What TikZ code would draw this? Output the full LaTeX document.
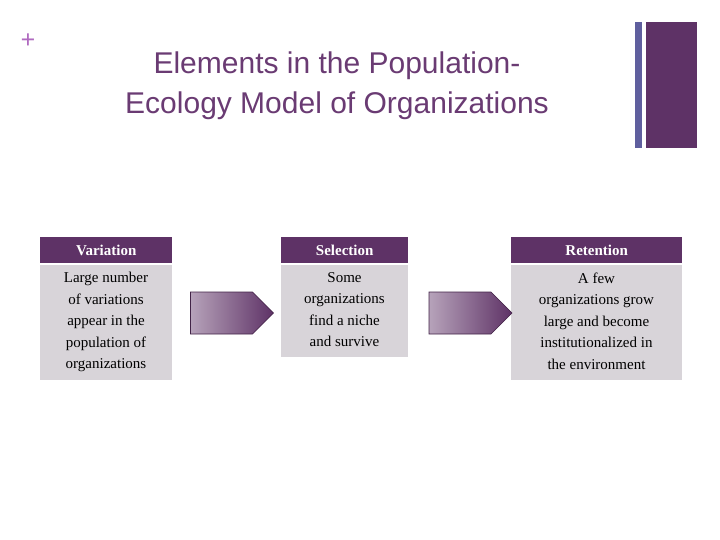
\documentclass[tikz,border=0pt]{standalone}
\usepackage{fontspec}
\setmainfont{Liberation Serif}
\newfontfamily\titlefont{Liberation Sans}
\usetikzlibrary{shapes.arrows,positioning}
\definecolor{plum}{HTML}{5E3266}
\definecolor{titleplum}{HTML}{6A3B73}
\definecolor{lilac}{HTML}{B06BC0}
\definecolor{slate}{HTML}{5F5F9E}
\definecolor{boxgray}{HTML}{D8D4D9}
\tikzset{
  head/.style={fill=plum, text=white, font=\bfseries\fontsize{15}{17}\selectfont,
    minimum height=26pt, inner sep=0pt, anchor=north west},
  body/.style={fill=boxgray, text=black, font=\fontsize{15}{21.5}\selectfont,
    align=center, inner sep=0pt, anchor=north west},
  step arrow/.style={single arrow, draw=plum!70!black, line width=0.6pt,
    left color=plum!45, right color=plum, minimum height=83pt,
    minimum width=42pt, single arrow head extend=0pt, inner sep=0pt,
    single arrow tip angle=90},
}
\begin{document}
\begin{tikzpicture}[x=1pt,y=-1pt]
  \useasboundingbox (0,0) rectangle (720,540);
  % title and decorations
  \node[text=lilac, font=\bfseries\fontsize{26}{26}\selectfont] (plus) at (28,41) {+};
  \node[text=titleplum, font=\titlefont\fontsize{30}{40}\selectfont, align=center] (title) at (337,86)
    {Elements in the Population-\\Ecology Model of Organizations};
  \fill[slate] (635,22) rectangle (642,148);
  \fill[plum] (646,22) rectangle (697,148);

  % stages
  \node[head, minimum width=132pt] (varh) at (40,237) {Variation};
  \node[body, minimum width=132pt, minimum height=115pt] (varb) at (40,265) {};
  \node[font=\fontsize{15}{21.5}\selectfont, align=center, anchor=north] (vart) at (106,269)
    {Large number\\of variations\\appear in the\\population of\\organizations};

  \node[head, minimum width=127pt] (selh) at (281,237) {Selection};
  \node[body, minimum width=127pt, minimum height=92pt] (selb) at (281,265) {};
  \node[font=\fontsize{15}{21.5}\selectfont, align=center, anchor=north] (selt) at (344.5,269)
    {Some\\organizations\\find a niche\\and survive};

  \node[head, minimum width=171pt] (reth) at (511,237) {Retention};
  \node[body, minimum width=171pt, minimum height=115pt] (retb) at (511,265) {};
  \node[font=\fontsize{15}{21.5}\selectfont, align=center, anchor=north] (rett) at (596.5,269)
    {A few\\organizations grow\\large and become\\institutionalized in\\the environment};

  % arrows
  \node[step arrow] (arrow1) at (221.5,313) {};
  \node[step arrow] (arrow2) at (460,313) {};
\end{tikzpicture}
\end{document}
